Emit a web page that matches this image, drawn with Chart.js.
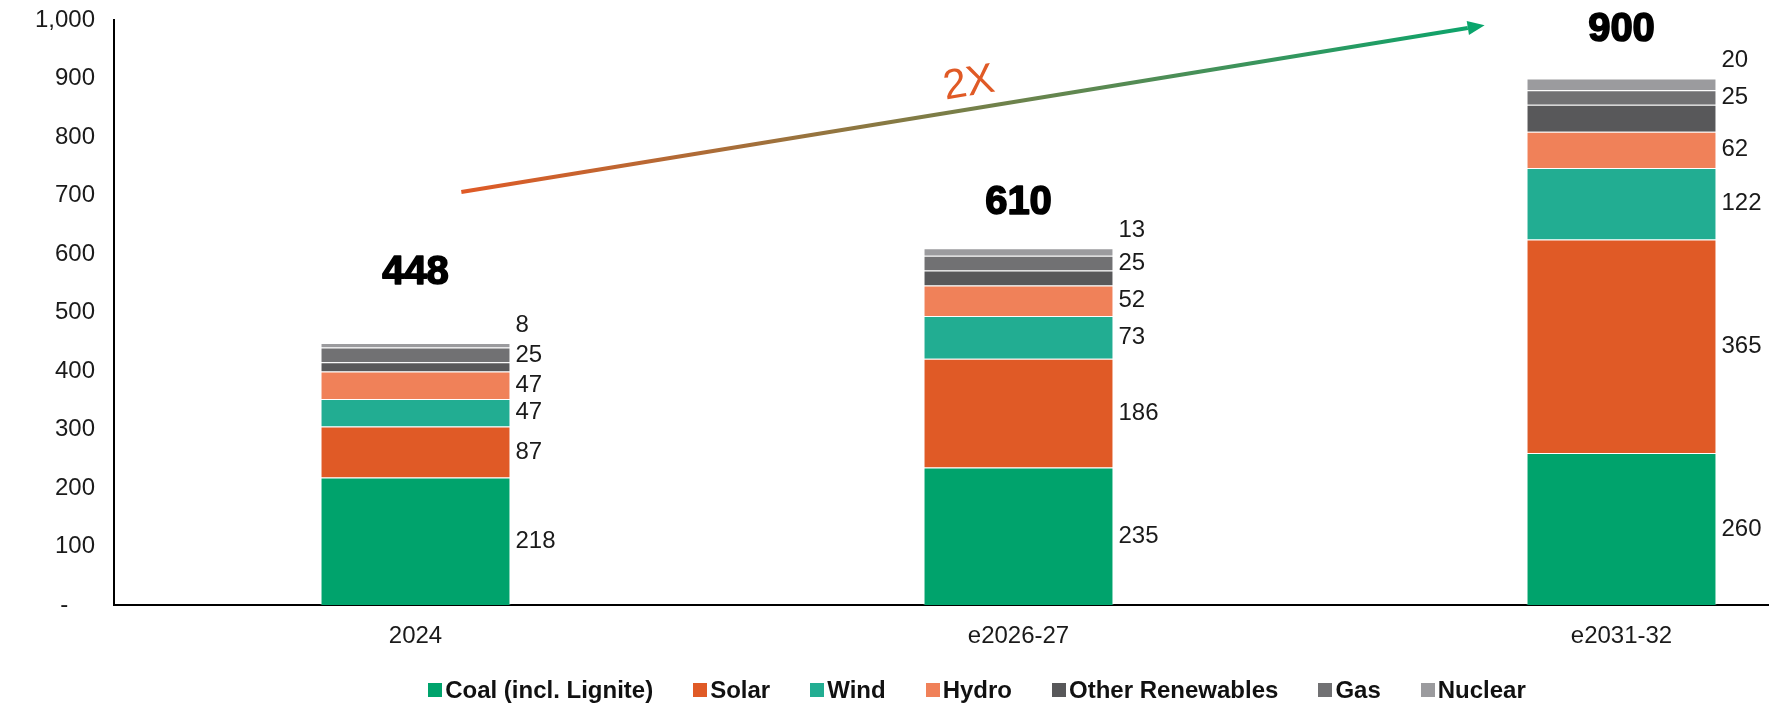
<!DOCTYPE html>
<html>
<head>
<meta charset="utf-8">
<script src="https://cdn.jsdelivr.net/npm/chart.js@4.4.0/dist/chart.umd.min.js"></script>
<style>
  html, body { margin: 0; padding: 0; background: #fff; overflow: hidden; }
  #wrap { position: relative; width: 1769px; height: 706px; overflow: hidden; }
  #c { position: absolute; left: 0; top: 0; }
  #legend { position: absolute; top: 676px; left: 0; width: 1954px; display: flex; justify-content: center;
            font: bold 24px 'Liberation Sans', Arial, sans-serif; color: #111; line-height: 28px; }
  .item { display: flex; align-items: center; margin: 0 20px; white-space: nowrap; }
  .sw { width: 14px; height: 14px; margin-right: 3px; }
</style>
</head>
<body>
<div id="wrap">
  <canvas id="c" width="1923" height="706"></canvas>
  <div id="legend"></div>
</div>
<script>
// ---- data ----
const categories = ['2024', 'e2026-27', 'e2031-32'];
const coal            = [218, 235, 260];
const solar           = [87, 186, 365];
const wind            = [47, 73, 122];
const hydro           = [47, 52, 62];
const otherRenewables = [16, 26, 46];
const gas             = [25, 25, 25];
const nuclear         = [8, 13, 20];
const totals          = [448, 610, 900];
const yTickValues     = [0, 100, 200, 300, 400, 500, 600, 700, 800, 900, 1000];
const growthLabel     = '2X';

// ---- styles ----
const seriesNames  = ['Coal (incl. Lignite)', 'Solar', 'Wind', 'Hydro', 'Other Renewables', 'Gas', 'Nuclear'];
const seriesData   = [coal, solar, wind, hydro, otherRenewables, gas, nuclear];
const seriesColors = ['#00A36C', '#E05A26', '#22AD92', '#F08159', '#58585A', '#717173', '#9B9B9E'];
const showValue    = [true, true, true, true, false, true, true];
const totalLift    = [70, 45, 49];           // px above bar top for the bold totals
const arrowFrom    = [0.076, 706];           // [category position, value]
const arrowTo      = [1.773, 991];
const FONT = "'Liberation Sans', Arial, sans-serif";

Chart.defaults.font.family = FONT;

const valueLabels = {
  id: 'valueLabels',
  afterDatasetsDraw(chart) {
    const ctx = chart.ctx;
    ctx.save();
    ctx.font = '24px ' + FONT;
    ctx.fillStyle = '#1a1a1a';
    ctx.textAlign = 'left';
    ctx.textBaseline = 'middle';
    const last = chart.data.datasets.length - 1;
    chart.data.datasets.forEach((ds, d) => {
      if (!showValue[d]) return;
      const meta = chart.getDatasetMeta(d);
      meta.data.forEach((el, i) => {
        const x = el.x + el.width / 2 + 5;
        const y = d === last ? el.y - 18 : (el.y + el.base) / 2;
        ctx.fillText(String(ds.data[i]), x, y);
      });
    });
    // totals
    const topMeta = chart.getDatasetMeta(last);
    ctx.font = 'bold 40px ' + FONT;
    ctx.fillStyle = '#000';
    ctx.strokeStyle = '#000';
    ctx.lineWidth = 1.6;
    ctx.lineJoin = 'round';
    ctx.textAlign = 'center';
    topMeta.data.forEach((el, i) => {
      ctx.fillText(String(totals[i]), el.x, el.y - totalLift[i]);
      ctx.strokeText(String(totals[i]), el.x, el.y - totalLift[i]);
    });
    ctx.restore();
  }
};

const arrowPlugin = {
  id: 'arrow',
  afterDatasetsDraw(chart) {
    const { ctx, scales: { x, y } } = chart;
    const x1 = x.getPixelForValue(arrowFrom[0]), y1 = y.getPixelForValue(arrowFrom[1]);
    const x2 = x.getPixelForValue(arrowTo[0]),   y2 = y.getPixelForValue(arrowTo[1]);
    const ang = Math.atan2(y2 - y1, x2 - x1);
    const headLen = 17, headW = 7;
    ctx.save();
    const g = ctx.createLinearGradient(x1, y1, x2, y2);
    g.addColorStop(0, '#E05A26');
    g.addColorStop(1, '#0AA56C');
    ctx.strokeStyle = g;
    ctx.lineWidth = 4;
    ctx.beginPath();
    ctx.moveTo(x1, y1);
    ctx.lineTo(x2 - headLen * Math.cos(ang), y2 - headLen * Math.sin(ang));
    ctx.stroke();
    ctx.translate(x2, y2);
    ctx.rotate(ang);
    ctx.fillStyle = '#0AA56C';
    ctx.beginPath();
    ctx.moveTo(0, 0);
    ctx.lineTo(-headLen, -headW);
    ctx.lineTo(-headLen, headW);
    ctx.closePath();
    ctx.fill();
    ctx.restore();

    // growth label
    const mx = (x1 + x2) / 2, my = (y1 + y2) / 2;
    const off = 25;
    const tx = mx + off * Math.sin(ang), ty = my - off * Math.cos(ang);
    ctx.save();
    ctx.translate(tx, ty);
    ctx.rotate(ang);
    ctx.font = '42px ' + FONT;
    ctx.fillStyle = '#E05A26';
    ctx.textAlign = 'center';
    ctx.textBaseline = 'middle';
    ctx.fillText(growthLabel, 0, 0);
    ctx.restore();
  }
};

const datasets = seriesNames.map((name, k) => ({
  label: name,
  data: seriesData[k],
  backgroundColor: seriesColors[k],
  borderColor: 'rgba(255,255,255,0.45)',
  borderWidth: 1,
  borderSkipped: 'start',
  barPercentage: 1,
  categoryPercentage: 0.315
}));

new Chart(document.getElementById('c'), {
  type: 'bar',
  data: { labels: categories, datasets },
  options: {
    responsive: false,
    animation: false,
    layout: { padding: { top: 20, right: 0, bottom: 0, left: 0 } },
    plugins: { legend: { display: false }, tooltip: { enabled: false } },
    scales: {
      x: {
        stacked: true,
        grid: { display: false, drawTicks: true, tickLength: 17 },
        border: { display: true, color: '#000', width: 2 },
        ticks: { color: '#1a1a1a', font: { size: 24 }, padding: 0, maxRotation: 0 },
        afterFit(s) { s.height = 101; }
      },
      y: {
        stacked: true,
        min: 0, max: 1000,
        grid: { display: false, drawTicks: true, tickLength: 19 },
        border: { display: true, color: '#000', width: 2 },
        afterBuildTicks(s) { s.ticks = yTickValues.map(v => ({ value: v })); },
        ticks: {
          color: '#1a1a1a', font: { size: 24 }, padding: 0,
          callback: v => v === 0 ? '-    ' : v.toLocaleString('en-US')
        },
        afterFit(s) { s.width = 114; }
      }
    }
  },
  plugins: [arrowPlugin, valueLabels]
});

// HTML legend built from the series
const leg = document.getElementById('legend');
seriesNames.forEach((n, k) => {
  const it = document.createElement('div');
  it.className = 'item';
  const sw = document.createElement('span');
  sw.className = 'sw';
  sw.style.background = seriesColors[k];
  const tx = document.createElement('span');
  tx.textContent = n;
  it.appendChild(sw); it.appendChild(tx);
  leg.appendChild(it);
});
</script>
</body>
</html>
